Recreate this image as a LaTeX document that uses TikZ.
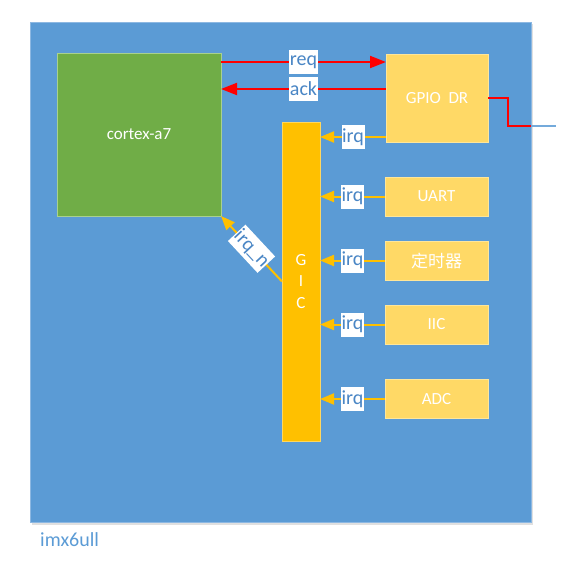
\documentclass[tikz,border=0pt]{standalone}
\usepackage{fontspec}
\setmainfont{Carlito}
\newfontfamily\cjk{Noto Sans CJK SC}
\usetikzlibrary{arrows.meta}
\definecolor{bgblue}{HTML}{5B9BD5}
\definecolor{bgedge}{HTML}{8DB8E2}
\definecolor{cgreen}{HTML}{70AD47}
\definecolor{cgreenedge}{HTML}{A9D18E}
\definecolor{pyel}{HTML}{FFD966}
\definecolor{pyeledge}{HTML}{FFE699}
\definecolor{gicyel}{HTML}{FFC000}
\definecolor{gicedge}{HTML}{FFD75E}
\definecolor{lbltext}{HTML}{4A86C5}
\tikzset{
  boxstyle/.style={draw=#1, line width=0.8pt, text=white, inner sep=0pt, outer sep=0pt,
    font=\fontsize{17}{20}\selectfont},
  periph/.style={boxstyle=pyeledge, fill=pyel, minimum width=103pt, minimum height=39pt},
  lbl/.style={fill=white, text=lbltext, inner xsep=0.6pt, inner ysep=0pt, outer sep=0pt,
    minimum height=24pt, font=\fontsize{20}{22}\selectfont},
  redarr/.style={draw=red, line width=2pt, -{Triangle[length=16pt,width=12pt]}},
  yelarr/.style={draw=gicyel, line width=2pt, -{Triangle[length=14pt,width=11pt]}},
}
\begin{document}
\begin{tikzpicture}[x=1pt,y=-1pt]
\useasboundingbox (0,0) rectangle (577,565);
% shadow and outer chip
\fill[black!12] (32,24) rectangle (533,525);
\node[draw=bgedge, fill=bgblue, line width=0.8pt, minimum width=501pt, minimum height=500pt,
  inner sep=0pt, outer sep=0pt] (chip) at (280.5,272) {};
\node[anchor=west, text=bgblue, font=\fontsize{20}{22}\selectfont, inner sep=0pt] (chipname) at (40,540) {imx6ull};

% blocks
\node[boxstyle=cgreenedge, fill=cgreen, minimum width=164pt, minimum height=163pt] (cortex) at (139,134.5) {cortex-a7};
\node[boxstyle=pyeledge, fill=pyel, minimum width=102pt, minimum height=88pt] (gpio) at (437,98) {GPIO\ \ DR};
\node[boxstyle=gicedge, fill=gicyel, minimum width=38pt, minimum height=319pt, align=center,
  font=\fontsize{17}{21.5}\selectfont] (gic) at (301,281.5) {G\\I\\C};
\node[periph] (uart) at (436.5,196.5) {UART};
\node[periph] (timer) at (436.5,260.5) {\cjk 定时器};
\node[periph] (iic) at (436.5,324.5) {IIC};
\node[periph] (adc) at (436.5,399) {ADC};

% helper coordinates for line heights
\coordinate (reqy) at (0,62);
\coordinate (acky) at (0,89);
\coordinate (gpioirqy) at (0,137);
\coordinate (bend) at (508,126);
\coordinate (edgept) at (531,126);
\coordinate (outend) at (556,126);

% req / ack
\draw[redarr] (cortex.east |- reqy) -- node[lbl] (reqlbl) {req} (gpio.west |- reqy);
\draw[redarr] (gpio.west |- acky) -- node[lbl] (acklbl) {ack} (cortex.east |- acky);

% external line
\draw[red, line width=2pt] (gpio.east) -| (bend) -- (edgept);
\draw[bgblue!85!white, line width=1.5pt] (edgept) -- (outend);

% irq lines
\draw[yelarr] (gpio.west |- gpioirqy) -- node[lbl] (irq0) {irq} (gic.east |- gpioirqy);
\draw[yelarr] (uart.west) -- node[lbl] (irq1) {irq} (gic.east |- uart.west);
\draw[yelarr] (timer.west) -- node[lbl] (irq2) {irq} (gic.east |- timer.west);
\draw[yelarr] (iic.west) -- node[lbl] (irq3) {irq} (gic.east |- iic.west);
\draw[yelarr] (adc.west) -- node[lbl] (irq4) {irq} (gic.east |- adc.west);

% irq_n
\draw[yelarr] (gic.west) -- node[lbl, sloped] (irqn) {irq\_n} (cortex.south east);
\end{tikzpicture}
\end{document}
